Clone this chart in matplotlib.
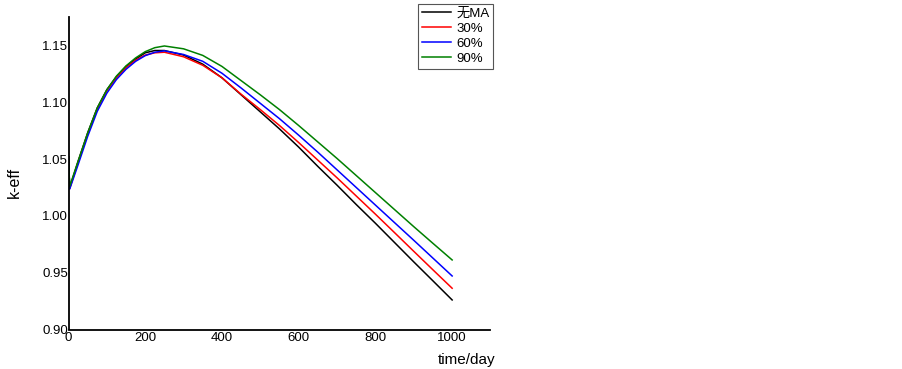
import matplotlib
matplotlib.use("Agg")
import matplotlib.pyplot as plt

plt.rcParams['font.family'] = ['Liberation Sans', 'Noto Sans CJK SC', 'DejaVu Sans']

# burnup time, days
days = [0, 3, 25, 50, 75, 100, 125, 150, 175, 200, 225, 250, 300, 350, 400,
        450, 500, 550, 600, 650, 700, 750, 800, 850, 900, 950, 1000]

keff_none = [1.052, 1.0245, 1.048, 1.073, 1.095, 1.111, 1.1225, 1.1315, 1.138,
             1.1435, 1.1455, 1.1455, 1.1415, 1.1335, 1.1215, 1.1065, 1.0915,
             1.0765, 1.0605, 1.0435, 1.0270, 1.0100, 0.9935, 0.9765, 0.9595,
             0.9428, 0.9260]
keff_30 = [1.052, 1.024, 1.047, 1.072, 1.094, 1.110, 1.1215, 1.1305, 1.137,
           1.1415, 1.1435, 1.1440, 1.1400, 1.1325, 1.1215, 1.1070, 1.0935,
           1.0795, 1.0645, 1.0490, 1.0335, 1.0175, 1.0015, 0.9852, 0.9688,
           0.9525, 0.9363]
keff_60 = [1.052, 1.0235, 1.045, 1.070, 1.092, 1.108, 1.120, 1.129, 1.136,
           1.1410, 1.1440, 1.1452, 1.1420, 1.1360, 1.1255, 1.1125, 1.0990,
           1.0855, 1.0710, 1.0560, 1.0405, 1.0250, 1.0095, 0.9940, 0.9785,
           0.9628, 0.9471]
keff_90 = [1.052, 1.026, 1.048, 1.073, 1.095, 1.111, 1.123, 1.132, 1.139,
           1.1445, 1.148, 1.1495, 1.1470, 1.1412, 1.1315, 1.1190, 1.1065,
           1.0935, 1.0795, 1.0650, 1.0505, 1.0355, 1.0205, 1.0055, 0.9905,
           0.9758, 0.9612]

labels = ['无MA', '30%', '60%', '90%']
colors = ['black', '#ff0000', '#0000ff', '#008000']

fig = plt.figure(figsize=(9.03, 3.69), dpi=100)
ax = fig.add_axes([68.5 / 903, (369 - 329.5) / 369, 422 / 903, 312.5 / 369])

for ys, lab, c in zip([keff_none, keff_30, keff_60, keff_90], labels, colors):
    ax.plot(days, ys, color=c, linewidth=1.1, label=lab)

ax.set_xlim(0, 1100)
ax.set_ylim(0.9, 1.175)
ax.set_xticks([0, 200, 400, 600, 800, 1000])
ax.set_yticks([0.90, 0.95, 1.00, 1.05, 1.10, 1.15])
ax.set_yticklabels(['0.90', '0.95', '1.00', '1.05', '1.10', '1.15'])
ax.tick_params(length=0, labelsize=9.5, pad=0.5)
ax.tick_params(axis='x', pad=2)

for side in ('top', 'right'):
    ax.spines[side].set_visible(False)
for side in ('left', 'bottom'):
    ax.spines[side].set_linewidth(1.3)
    ax.spines[side].set_color('black')

ax.set_ylabel('k-eff', fontsize=11.5)
ax.yaxis.set_label_coords(-0.110, 0.472)
fig.text(495 / 903, 1 - 360 / 369, 'time/day', fontsize=11, ha='right', va='center')

leg = fig.legend(loc='upper left', bbox_to_anchor=(418 / 903, 1 - 3.7 / 369),
                 fontsize=9.5, frameon=True, fancybox=False, edgecolor='#555555',
                 framealpha=1, borderaxespad=0, handlelength=2.2,
                 handletextpad=0.4, labelspacing=0.2, borderpad=0.3)
leg.get_frame().set_linewidth(0.8)

fig.savefig('out.png', dpi=100)
